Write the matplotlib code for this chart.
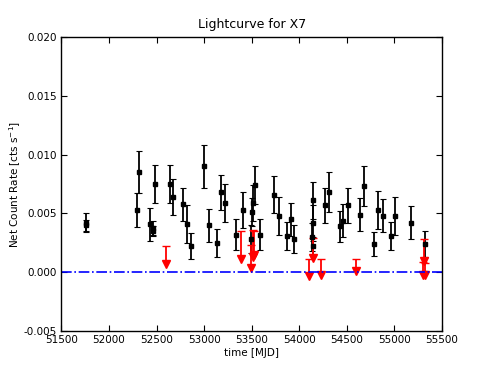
import matplotlib
matplotlib.use("Agg")
import matplotlib.pyplot as plt
import numpy as np

# detections: time [MJD], net count rate, 1-sigma error
det_mjd = [51755, 51762, 52290, 52319, 52434, 52458, 52465, 52480, 52637, 52676,
           52777, 52823, 52858, 53001, 53047, 53138, 53180, 53219, 53334, 53412,
           53490, 53500, 53515, 53535, 53589, 53736, 53785, 53876, 53911, 53946,
           54140, 54145, 54138, 54148, 54275, 54310, 54426, 54463, 54510, 54636,
           54681, 54786, 54832, 54878, 54962, 55004, 55179, 55326]
det_rate = [0.0042, 0.0040, 0.0053, 0.0085, 0.0041, 0.0038, 0.0035, 0.0075, 0.0075, 0.0064,
            0.0058, 0.0041, 0.0022, 0.0090, 0.0040, 0.0025, 0.0068, 0.0059, 0.0032, 0.0053,
            0.0028, 0.0051, 0.0059, 0.0074, 0.0032, 0.0066, 0.0048, 0.0031, 0.0045, 0.0028,
            0.0061, 0.0042, 0.0030, 0.0022, 0.0057, 0.0068, 0.0039, 0.0044, 0.0057, 0.0049,
            0.0073, 0.0024, 0.0053, 0.0048, 0.0031, 0.0048, 0.0042, 0.0024]
det_err = [0.0008, 0.00045, 0.00145, 0.0018, 0.0014, 0.0006, 0.0004, 0.0016, 0.0016, 0.0015,
           0.0014, 0.0016, 0.0011, 0.0018, 0.0014, 0.0012, 0.0015, 0.0016, 0.0013, 0.0015,
           0.0012, 0.0012, 0.0015, 0.0016, 0.0013, 0.0016, 0.0016, 0.0012, 0.0014, 0.0012,
           0.0016, 0.0015, 0.0012, 0.0008, 0.0015, 0.0017, 0.0013, 0.0014, 0.0015, 0.0014,
           0.0017, 0.0010, 0.0016, 0.0014, 0.0012, 0.0016, 0.0014, 0.0011]

# upper limits: time [MJD], limit value, arrow end
ul_mjd = [52595, 53393, 53490, 53510, 53522, 54104, 54150, 54229, 54597, 55312, 55305, 55318]
ul_top = [0.0022, 0.0035, 0.0023, 0.0036, 0.0035, 0.0011, 0.0029, 0.0011, 0.0011, 0.0028, 0.0009, 0.0008]
ul_end = [0.0007, 0.0011, 0.0004, 0.0013, 0.0015, -0.0003, 0.0012, -0.0002, 0.0001, 0.0010, -0.0002, -0.0002]

fig = plt.figure(figsize=(4.91, 3.68), dpi=100)
ax = fig.add_axes([0.125, 0.1, 0.775, 0.8])

ax.errorbar(det_mjd, det_rate, yerr=det_err, fmt="s", color="k", ms=2.2,
            ecolor="k", elinewidth=1.3, capsize=2.5, capthick=0.8)

ax.vlines(ul_mjd, ul_end, ul_top, color="red", lw=1.3)
ax.plot(ul_mjd, ul_top, "_", color="red", ms=6, mew=1)
ax.plot(ul_mjd, ul_end, "v", color="red", ms=6, mec="red")

ax.axhline(0.0, color="b", ls="-.", lw=1.2)

ax.set_xlim(51500, 55500)
ax.set_ylim(-0.005, 0.020)
ax.set_xticks(np.arange(51500, 55501, 500))
ax.set_yticks(np.arange(-0.005, 0.0201, 0.005))
ax.yaxis.set_major_formatter(matplotlib.ticker.FormatStrFormatter("%.3f"))
ax.tick_params(direction="in", top=True, right=True, labelsize=7.5, length=4, pad=3)
for s in ax.spines.values():
    s.set_linewidth(1.0)

ax.set_title("Lightcurve for X7", fontsize=9)
ax.set_xlabel("time [MJD]", fontsize=7.5, labelpad=2)
ax.set_ylabel("Net Count Rate [cts s$^{-1}$]", fontsize=7.5, labelpad=1)

fig.savefig("out.png", dpi=100)
